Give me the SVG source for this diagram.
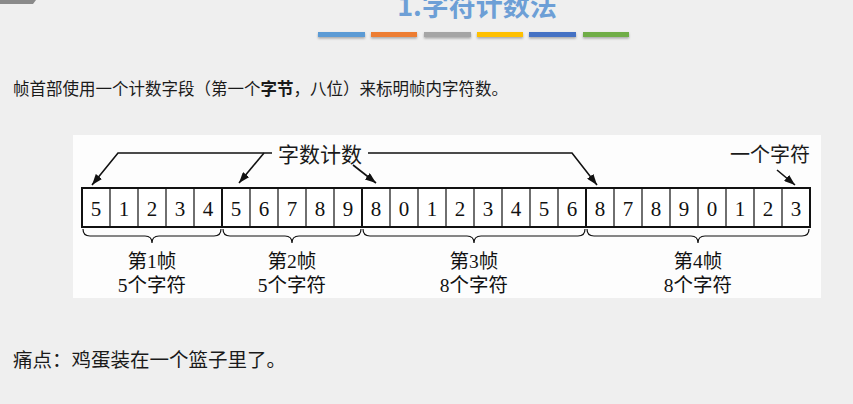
<svg xmlns="http://www.w3.org/2000/svg" width="853" height="404" viewBox="0 0 853 404">
<defs>
<marker id="ah" viewBox="0 0 11 8" refX="11" refY="4" markerWidth="11" markerHeight="8" markerUnits="userSpaceOnUse" orient="auto">
<path d="M0,0 L11,4 L0,8 Z" fill="#111"/>
</marker>
<filter id="sh" x="-10%" y="-50%" width="120%" height="250%"><feDropShadow dx="0" dy="1.5" stdDeviation="1" flood-color="#000" flood-opacity="0.3"/></filter>
</defs>
<style>
.cjk{font-family:"Noto Sans CJK SC","Noto Sans",sans-serif;fill:#1a1a1a}
.ser{font-family:"Liberation Serif","Noto Sans CJK SC",serif;fill:#1a1a1a}
.cell{fill:#fff;stroke:#111;stroke-width:1.2}
.dig{font-family:"Liberation Serif",serif;font-size:21px;fill:#111;text-anchor:middle}
.lbl{font-family:"Liberation Serif","Noto Sans CJK SC",serif;font-size:19.5px;fill:#111;text-anchor:middle}
.ln{fill:none;stroke:#111;stroke-width:1.6}
.br{fill:none;stroke:#111;stroke-width:1.2}
</style>
<rect width="853" height="404" fill="#efefef"/>
<path d="M0,0 H36 L33,4 H0 Z" fill="#8a8a8a"/>
<text x="477" y="16" font-family="'Noto Sans CJK SC',sans-serif" font-size="27" font-weight="bold" fill="#6d9fd6" text-anchor="middle">1.字符计数法</text>
<g id="bars" filter="url(#sh)">
<rect x="318" y="32" width="47" height="5" fill="#5b9bd5"/>
<rect x="371" y="32" width="46" height="5" fill="#ed7d31"/>
<rect x="424" y="32" width="47" height="5" fill="#a5a5a5"/>
<rect x="477" y="32" width="46" height="5" fill="#ffc000"/>
<rect x="529" y="32" width="47" height="5" fill="#4472c4"/>
<rect x="583" y="32" width="46" height="5" fill="#70ad47"/>
</g>
<text class="cjk" x="13" y="95" font-size="16.5">帧首部使用一个计数字段（第一个<tspan font-weight="bold">字节</tspan>，八位）来标明帧内字符数。</text>
<rect x="73" y="135" width="748" height="163" fill="#fdfdfd"/>
<g id="cells">
<rect class="cell" x="82" y="188" width="728" height="39"/>
<path d="M110,188V227M138,188V227M166,188V227M194,188V227M250,188V227M278,188V227M306,188V227M334,188V227M390,188V227M418,188V227M446,188V227M474,188V227M502,188V227M530,188V227M558,188V227M614,188V227M642,188V227M670,188V227M698,188V227M726,188V227M754,188V227M782,188V227" stroke="#111" stroke-width="1.2" fill="none"/>
<path d="M82,187V228M222,187V228M362,187V228M586,187V228M810,187V228M82,188H810M82,227H810" stroke="#111" stroke-width="2" fill="none"/>
<text class="dig" y="216"><tspan x="96">5</tspan><tspan x="124">1</tspan><tspan x="152">2</tspan><tspan x="180">3</tspan><tspan x="208">4</tspan><tspan x="236">5</tspan><tspan x="264">6</tspan><tspan x="292">7</tspan><tspan x="320">8</tspan><tspan x="348">9</tspan><tspan x="376">8</tspan><tspan x="404">0</tspan><tspan x="432">1</tspan><tspan x="460">2</tspan><tspan x="488">3</tspan><tspan x="516">4</tspan><tspan x="544">5</tspan><tspan x="572">6</tspan><tspan x="600">8</tspan><tspan x="628">7</tspan><tspan x="656">8</tspan><tspan x="684">9</tspan><tspan x="712">0</tspan><tspan x="740">1</tspan><tspan x="768">2</tspan><tspan x="796">3</tspan></text>
</g>
<g id="frame1">
<path class="br" d="M83,229 Q83,236 90,236 L145,236 Q152,236 152,243 Q152,236 159,236 L214,236 Q221,236 221,229"/>
<text class="lbl" x="152" y="268">第1帧</text>
<text class="lbl" x="152" y="292">5个字符</text>
</g>
<g id="frame2">
<path class="br" d="M223,229 Q223,236 230,236 L285,236 Q292,236 292,243 Q292,236 299,236 L354,236 Q361,236 361,229"/>
<text class="lbl" x="292" y="268">第2帧</text>
<text class="lbl" x="292" y="292">5个字符</text>
</g>
<g id="frame3">
<path class="br" d="M363,229 Q363,236 370,236 L467,236 Q474,236 474,243 Q474,236 481,236 L578,236 Q585,236 585,229"/>
<text class="lbl" x="474" y="268">第3帧</text>
<text class="lbl" x="474" y="292">8个字符</text>
</g>
<g id="frame4">
<path class="br" d="M587,229 Q587,236 594,236 L691,236 Q698,236 698,243 Q698,236 705,236 L802,236 Q809,236 809,229"/>
<text class="lbl" x="698" y="268">第4帧</text>
<text class="lbl" x="698" y="292">8个字符</text>
</g>
<g id="count-label">
<text class="ser" x="320" y="162" font-size="21" text-anchor="middle">字数计数</text>
</g>
<g id="char-label">
<text class="ser" x="770" y="162" font-size="20" text-anchor="middle">一个字符</text>
</g>
<g id="connectors">
<path class="ln" d="M272,153 H118 L92,185" marker-end="url(#ah)"/>
<path class="ln" d="M264,153 L239,183" marker-end="url(#ah)"/>
<path class="ln" d="M353,165 L376,183" marker-end="url(#ah)"/>
<path class="ln" d="M368,153 H572 L597,185" marker-end="url(#ah)"/>
<path class="ln" d="M777,170 L795,185" marker-end="url(#ah)"/>
</g>
<text class="cjk" x="13" y="367" font-size="19.5">痛点：鸡蛋装在一个篮子里了。</text>
</svg>
